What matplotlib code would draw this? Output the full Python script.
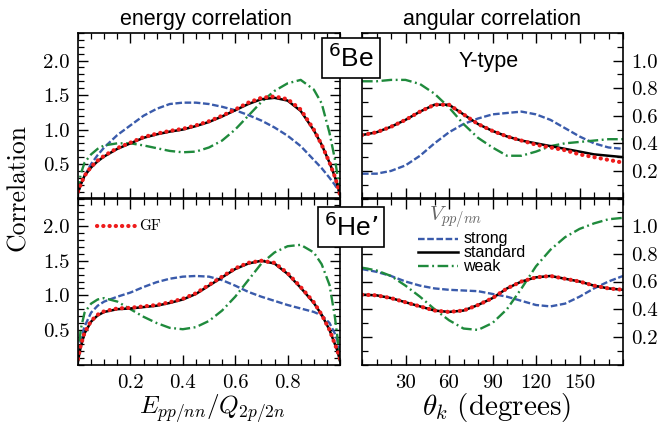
import matplotlib
matplotlib.use("Agg")
import matplotlib.pyplot as plt
from matplotlib.ticker import MultipleLocator

plt.rcParams['mathtext.fontset'] = 'cm'
plt.rcParams['axes.formatter.use_mathtext'] = True

# ---------------- data ----------------
e_x = [0.0, 0.01, 0.025, 0.05, 0.075, 0.1, 0.15, 0.2, 0.25, 0.3, 0.35, 0.4, 0.45, 0.5,
       0.55, 0.6, 0.65, 0.7, 0.75, 0.8, 0.85, 0.9, 0.93, 0.96, 0.98, 0.99, 1.0]

be_e_standard = [0.08, 0.2, 0.33, 0.45, 0.54, 0.61, 0.72, 0.80, 0.88, 0.93, 0.97, 1.00, 1.05,
                 1.11, 1.19, 1.28, 1.37, 1.44, 1.46, 1.42, 1.27, 0.99, 0.78, 0.52, 0.32, 0.2, 0.05]
be_e_gf = [0.1, 0.2, 0.33, 0.46, 0.55, 0.62, 0.73, 0.81, 0.89, 0.94, 0.98, 1.01, 1.06,
           1.12, 1.20, 1.29, 1.39, 1.46, 1.48, 1.44, 1.29, 1.00, 0.78, 0.52, 0.32, 0.2, 0.05]
be_e_strong = [0.08, 0.2, 0.33, 0.5, 0.63, 0.74, 0.92, 1.06, 1.2, 1.3, 1.37, 1.39, 1.39,
               1.37, 1.33, 1.28, 1.21, 1.13, 1.03, 0.91, 0.76, 0.56, 0.44, 0.3, 0.2, 0.14, 0.08]
be_e_weak = [0.1, 0.35, 0.52, 0.64, 0.72, 0.77, 0.8, 0.8, 0.77, 0.73, 0.69, 0.67, 0.68,
             0.74, 0.84, 1.0, 1.2, 1.4, 1.56, 1.67, 1.72, 1.58, 1.38, 0.95, 0.58, 0.35, 0.08]

he_e_standard = [0.05, 0.25, 0.45, 0.62, 0.71, 0.76, 0.8, 0.81, 0.83, 0.85, 0.89, 0.94, 1.02,
                 1.14, 1.26, 1.38, 1.46, 1.5, 1.46, 1.31, 1.11, 0.89, 0.72, 0.5, 0.3, 0.2, 0.05]
he_e_gf = [0.08, 0.27, 0.46, 0.63, 0.72, 0.77, 0.81, 0.82, 0.84, 0.86, 0.9, 0.95, 1.03,
           1.15, 1.27, 1.39, 1.47, 1.5, 1.47, 1.32, 1.12, 0.9, 0.72, 0.5, 0.3, 0.2, 0.08]
he_e_strong = [0.05, 0.35, 0.55, 0.75, 0.85, 0.91, 0.98, 1.04, 1.12, 1.19, 1.24, 1.27, 1.28,
               1.27, 1.22, 1.14, 1.05, 0.98, 0.92, 0.86, 0.81, 0.76, 0.71, 0.6, 0.45, 0.35, 0.15]
he_e_weak = [0.05, 0.5, 0.75, 0.88, 0.94, 0.96, 0.91, 0.8, 0.69, 0.6, 0.53, 0.51, 0.54,
             0.63, 0.78, 0.98, 1.22, 1.46, 1.62, 1.71, 1.73, 1.62, 1.45, 1.15, 0.7, 0.4, 0.05]

theta = [0, 10, 20, 30, 40, 50, 60, 70, 80, 90, 100, 110, 120, 130, 140, 150, 160, 170, 180]

be_a_standard = [0.46, 0.48, 0.52, 0.57, 0.63, 0.68, 0.68, 0.61, 0.54, 0.49, 0.45, 0.42,
                 0.40, 0.38, 0.36, 0.34, 0.32, 0.31, 0.30]
be_a_gf = [0.46, 0.48, 0.52, 0.57, 0.63, 0.68, 0.68, 0.61, 0.54, 0.49, 0.45, 0.42,
           0.39, 0.37, 0.35, 0.32, 0.30, 0.28, 0.26]
be_a_strong = [0.18, 0.18, 0.2, 0.24, 0.31, 0.40, 0.48, 0.54, 0.58, 0.61, 0.62, 0.63,
               0.61, 0.57, 0.51, 0.45, 0.40, 0.37, 0.36]
be_a_weak = [0.85, 0.85, 0.86, 0.86, 0.83, 0.76, 0.66, 0.54, 0.44, 0.37, 0.31, 0.31,
             0.34, 0.38, 0.40, 0.41, 0.42, 0.43, 0.43]

he_a_standard = [0.505, 0.5, 0.48, 0.45, 0.42, 0.39, 0.38, 0.39, 0.43, 0.48, 0.55, 0.6,
                 0.63, 0.64, 0.62, 0.6, 0.57, 0.55, 0.54]
he_a_gf = he_a_standard
he_a_strong = [0.69, 0.67, 0.64, 0.6, 0.57, 0.55, 0.54, 0.535, 0.53, 0.51, 0.49, 0.46,
               0.43, 0.42, 0.44, 0.49, 0.55, 0.6, 0.64]
he_a_weak = [0.70, 0.68, 0.64, 0.57, 0.49, 0.40, 0.32, 0.26, 0.25, 0.30, 0.40, 0.55,
             0.71, 0.83, 0.92, 0.98, 1.02, 1.05, 1.06]

e_ticks = [0.2, 0.4, 0.6, 0.8]
e_ticklabels = ["0.2", "0.4", "0.6", "0.8"]
ecorr_ticks = [0.5, 1.0, 1.5, 2.0]
ecorr_ticklabels = ["0.5", "1.0", "1.5", "2.0"]
th_ticks = [30, 60, 90, 120, 150]
th_ticklabels = ["30", "60", "90", "120", "150"]
acorr_ticks = [0.2, 0.4, 0.6, 0.8, 1.0]
acorr_ticklabels = ["0.2", "0.4", "0.6", "0.8", "1.0"]

series_names = ["strong", "standard", "weak"]

# ---------------- styles ----------------
BLUE = "#3a5bab"
GREEN = "#1f8a3c"
RED = "#ee1c1c"
style = {
    "strong": dict(color=BLUE, lw=1.7, linestyle=(0, (2.8, 1.1))),
    "standard": dict(color="black", lw=1.8, linestyle="-"),
    "weak": dict(color=GREEN, lw=1.7, linestyle=(0, (4.5, 1.5, 0.8, 1.5))),
    "gf": dict(color=RED, lw=3.0, linestyle=(0, (0.05, 1.45)), dash_capstyle="round"),
}

W, H = 661, 428
fig = plt.figure(figsize=(W / 100, H / 100), dpi=100)

def ax_rect(x0, y0, x1, y1):
    return [x0 / W, 1 - y1 / H, (x1 - x0) / W, (y1 - y0) / H]

ax_be_e = fig.add_axes(ax_rect(78, 33, 340, 198.5))
ax_he_e = fig.add_axes(ax_rect(78, 198.5, 340, 364.5))
ax_be_a = fig.add_axes(ax_rect(362, 33, 623, 198.5))
ax_he_a = fig.add_axes(ax_rect(362, 198.5, 623, 364.5))

serif = "cmr10"
TICKFS = 15

def common(ax):
    for s in ax.spines.values():
        s.set_linewidth(1.2)
    ax.tick_params(which="both", direction="in", top=True, bottom=True, left=True, right=True)
    ax.tick_params(which="major", length=7, width=1.0)
    ax.tick_params(which="minor", length=4, width=0.9)

# energy panels
for ax, std, gf, strong, weak in [(ax_be_e, be_e_standard, be_e_gf, be_e_strong, be_e_weak),
                                  (ax_he_e, he_e_standard, he_e_gf, he_e_strong, he_e_weak)]:
    ax.plot(e_x, strong, **style["strong"])
    ax.plot(e_x, weak, **style["weak"])
    ax.plot(e_x, std, **style["standard"])
    ax.plot(e_x, gf, **style["gf"])
    ax.set_xlim(0, 1)
    ax.set_ylim(0, 2.4)
    common(ax)
    ax.set_xticks(e_ticks)
    ax.xaxis.set_minor_locator(MultipleLocator(0.05))
    ax.set_yticks(ecorr_ticks)
    ax.set_yticklabels(ecorr_ticklabels, fontfamily=serif, fontsize=TICKFS)
    ax.yaxis.set_minor_locator(MultipleLocator(0.1))
    ax.tick_params(axis="y", pad=6)

ax_be_e.set_xticklabels([])
ax_he_e.set_xticklabels(e_ticklabels, fontfamily=serif, fontsize=TICKFS)
ax_he_e.tick_params(axis="x", pad=7)

# angular panels
for ax, std, gf, strong, weak in [(ax_be_a, be_a_standard, be_a_gf, be_a_strong, be_a_weak),
                                  (ax_he_a, he_a_standard, he_a_gf, he_a_strong, he_a_weak)]:
    ax.plot(theta, strong, **style["strong"])
    ax.plot(theta, weak, **style["weak"])
    ax.plot(theta, std, **style["standard"])
    ax.plot(theta, gf, **style["gf"])
    ax.set_xlim(0, 180)
    ax.set_ylim(0, 1.2)
    common(ax)
    ax.set_xticks(th_ticks)
    ax.xaxis.set_minor_locator(MultipleLocator(10))
    ax.set_yticks(acorr_ticks)
    ax.yaxis.set_minor_locator(MultipleLocator(0.1))
    ax.tick_params(axis="y", labelleft=False, labelright=True, pad=6)
    ax.set_yticklabels(acorr_ticklabels, fontfamily=serif, fontsize=TICKFS)

ax_be_a.set_xticklabels([])
ax_he_a.set_xticklabels(th_ticklabels, fontfamily=serif, fontsize=TICKFS)
ax_he_a.tick_params(axis="x", pad=7)

# titles
sans = "Liberation Sans"
fig.text(205.5 / W, 1 - 19 / H, "energy correlation", ha="center", va="center",
         fontfamily=sans, fontsize=15.5)
fig.text(491.5 / W, 1 - 19 / H, "angular correlation", ha="center", va="center",
         fontfamily=sans, fontsize=15.5)
fig.text(488.5 / W, 1 - 61 / H, "Y-type", ha="center", va="center",
         fontfamily=sans, fontsize=15.5)

# nucleus boxes
for yc, lab in [(58, r"$^{6}$Be"), (227, r"$^{6}$He’")]:
    fig.text(351 / W, 1 - yc / H, lab, ha="center", va="center", fontfamily=sans,
             fontsize=19, math_fontfamily="dejavusans",
             bbox=dict(boxstyle="square,pad=0.22", fc="white", ec="black", lw=1.2))

# axis labels
fig.text(18 / W, 1 - 188 / H, "Correlation", rotation=90, ha="center", va="center",
         fontfamily=serif, fontsize=18.5)
fig.text(212 / W, 1 - 409 / H, r"$E_{pp/nn}/Q_{2p/2n}$", ha="center", va="center", fontsize=18)
fig.text(496 / W, 1 - 408 / H, r"$\theta_k\ \mathrm{(degrees)}$", ha="center", va="center",
         fontsize=21)

# GF legend in bottom-left panel
ax_he_e.plot([0.073, 0.23], [2.0, 2.0], **style["gf"])
ax_he_e.text(0.235, 2.0, "GF", fontfamily=serif, fontsize=11, va="center", ha="left")

# V legend in bottom-right panel
ax_he_a.text(46, 1.06, r"$V_{pp/nn}$", color="#666666", fontsize=15, ha="left", va="center")
leg_y = [0.91, 0.81, 0.71]
for name, yv in zip(series_names, leg_y):
    ax_he_a.plot([38.6, 66.2], [yv, yv], **style[name])
    ax_he_a.text(70, yv, name, fontfamily=sans, fontsize=11.5, ha="left", va="center")

fig.savefig("out.png", dpi=100)
